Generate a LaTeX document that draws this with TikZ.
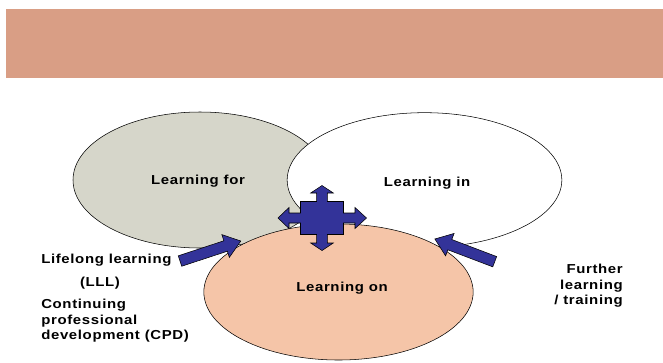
\documentclass[tikz,border=0pt]{standalone}
\usepackage{fontspec}
\usetikzlibrary{shapes.geometric}
\newfontfamily\labelfont{Liberation Sans}[FakeStretch=1.15,LetterSpace=5]
\definecolor{bannercol}{HTML}{D99E85}
\definecolor{forgray}{HTML}{D6D6CA}
\definecolor{onpeach}{HTML}{F5C5A8}
\definecolor{arrowblue}{HTML}{333399}
\tikzset{
  venn/.style={ellipse,draw=black,line width=0.4pt,inner sep=0pt},
  lbl/.style={font=\labelfont\bfseries\fontsize{9.75}{11.6}\selectfont,inner sep=0pt},
  arrowfill/.style={fill=arrowblue,draw=black,line width=0.4pt,line join=miter},
  blockarrow/.pic={
    \draw[arrowfill] (0,-5.5) -- (48,-5.5) -- (48,-12) -- (64,0) -- (48,12) -- (48,5.5) -- (0,5.5) -- cycle;
  }
}

\begin{document}
\begin{tikzpicture}[x=0.75pt,y=0.75pt,yscale=-1,xscale=1]
\useasboundingbox (0,0) rectangle (663,362);

% title bar
\fill[bannercol] (6,9) rectangle (663,78);

% three overlapping ellipses
\node[venn,fill=forgray,minimum width=190.5pt,minimum height=102pt] (lfor) at (200,180) {};
\node[venn,fill=white,minimum width=206pt,minimum height=101pt] (lin) at (424.5,180) {};
\node[venn,fill=onpeach,minimum width=202pt,minimum height=102pt] (lon) at (338.5,292) {};

\node[lbl] (tfor) at (198,181) {Learning for};
\node[lbl] (tin) at (427,183) {Learning in};
\node[lbl] (ton) at (342,288) {Learning on};

% side arrows
\pic[rotate=18.2] at (180,261) {blockarrow};
\pic[rotate=159.2] at (494.7,261.7) {blockarrow};

% four-way arrow
\draw[arrowfill,shift={(322,218)}]
  (0,-32.5) -- (11.3,-25) -- (5.3,-25) -- (5.3,-16.5) -- (21.5,-16.5) -- (21.5,-5) -- (33,-5) -- (33,-10.5)
  -- (44.5,0) -- (33,10.5) -- (33,5) -- (21.5,5) -- (21.5,16.5) -- (5.3,16.5) -- (5.3,25) -- (11.3,25)
  -- (0,32.5) -- (-11.3,25) -- (-5.3,25) -- (-5.3,16.5) -- (-21.5,16.5) -- (-21.5,5) -- (-33,5) -- (-33,10.5)
  -- (-44,0) -- (-33,-10.5) -- (-33,-5) -- (-21.5,-5) -- (-21.5,-16.5) -- (-5.3,-16.5) -- (-5.3,-25) -- (-11.3,-25) -- cycle;

% side texts
\node[lbl,anchor=west] (lll) at (41,260) {Lifelong learning};
\node[lbl] (lllabbr) at (100,283) {(LLL)};
\node[lbl,anchor=north west,align=left] (cpd) at (41,299) {Continuing\\professional\\development (CPD)};
\node[lbl,anchor=north east,align=right] (further) at (623,264) {Further\\learning\\/ training};

\end{tikzpicture}
\end{document}
